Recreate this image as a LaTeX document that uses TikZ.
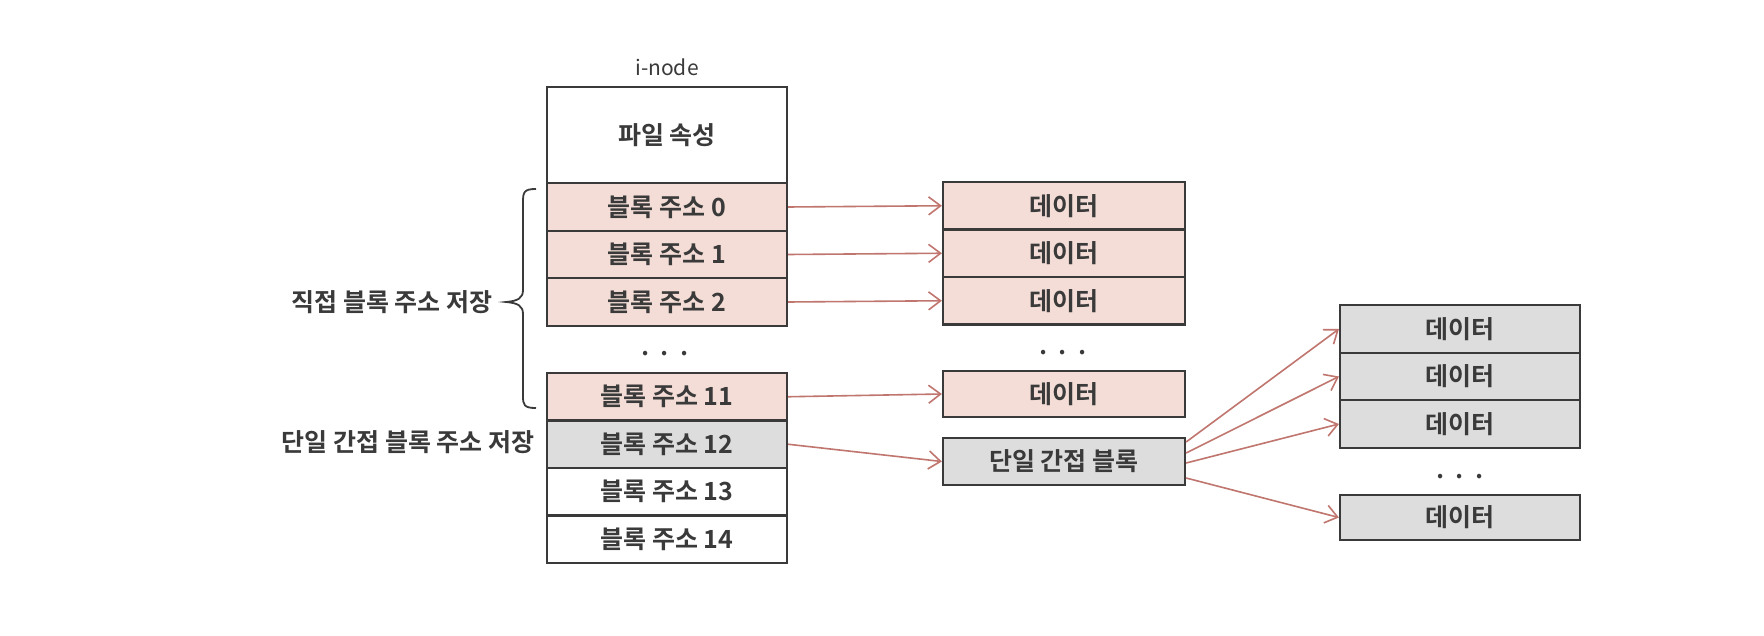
\documentclass[tikz,border=0pt]{standalone}
\usepackage{fontspec}
\setmainfont{Noto Sans CJK KR}[BoldFont={Noto Sans CJK KR Bold}]
\usetikzlibrary{arrows.meta}
\definecolor{pinkfill}{HTML}{F3DDD6}
\definecolor{grayfill}{HTML}{DDDDDD}
\definecolor{arrowred}{HTML}{C0766E}
\definecolor{edgecol}{HTML}{3A3A3A}
\definecolor{txtcol}{HTML}{3A3A3A}
\begin{document}
\begin{tikzpicture}[x=0.5pt,y=-0.5pt,
  cell/.style={draw=edgecol, line width=1.1pt, inner sep=0pt, text=txtcol,
    minimum height=23.75pt, font=\fontsize{12.5}{14}\selectfont\bfseries},
  inodecell/.style={cell, minimum width=120pt},
  datacell/.style={cell, minimum width=121pt},
  datacellb/.style={cell, minimum width=120pt},
  pinkcell/.style={fill=pinkfill},
  graycell/.style={fill=grayfill},
  whitecell/.style={fill=white},
  ptr/.style={draw=arrowred, line width=0.8pt, -{Straight Barb[length=6pt,width=9pt,line width=0.8pt]}},
  bracestyle/.style={draw=edgecol, line width=0.9pt},
  lbl/.style={text=txtcol, font=\fontsize{12.5}{14}\selectfont\bfseries, inner sep=0pt},
  dotslbl/.style={text=txtcol, font=\fontsize{12}{14}\selectfont\bfseries, inner sep=0pt}
]
\fill[white] (0,0) rectangle (1764,636);
\useasboundingbox (0,0) rectangle (1764,636);

% i-node column
\node[lbl, font=\fontsize{10.5}{12}\selectfont] (title) at (667,67) {i-node};
\node[inodecell, whitecell, minimum height=48pt] (attr) at (667,135) {파일 속성};
\node[inodecell, pinkcell] (r0) at (667,207) {블록 주소 0};
\node[inodecell, pinkcell] (r1) at (667,254.5) {블록 주소 1};
\node[inodecell, pinkcell] (r2) at (667,302) {블록 주소 2};
\node[dotslbl] (dotsA) at (665,357) {· · ·};
\node[inodecell, pinkcell] (r11) at (667,396.75) {블록 주소 11};
\node[inodecell, graycell] (r12) at (667,444.25) {블록 주소 12};
\node[inodecell, whitecell] (r13) at (667,491.75) {블록 주소 13};
\node[inodecell, whitecell] (r14) at (667,539.25) {블록 주소 14};

% data column 1
\node[datacell, pinkcell] (d0) at (1064,205.75) {데이터};
\node[datacell, pinkcell] (d1) at (1064,253.25) {데이터};
\node[datacell, pinkcell] (d2) at (1064,300.75) {데이터};
\node[dotslbl] (dotsB) at (1063,356) {· · ·};
\node[datacell, pinkcell, minimum height=23pt] (d11) at (1064,394) {데이터};
\node[datacell, graycell] (ind) at (1064,461.5) {단일 간접 블록};

% data column 2
\node[datacellb, graycell] (e0) at (1460,329) {데이터};
\node[datacellb, graycell] (e1) at (1460,376.5) {데이터};
\node[datacellb, graycell] (e2) at (1460,424) {데이터};
\node[dotslbl] (dotsC) at (1460,480) {· · ·};
\node[datacellb, graycell, minimum height=22.5pt] (e3) at (1460,517.5) {데이터};

% left labels and brace
\node[lbl, anchor=east] (direct) at (493,302) {직접 블록 주소 저장};
\node[lbl, anchor=east] (single) at (535,442) {단일 간접 블록 주소 저장};
\draw[bracestyle] (536,189) .. controls (524,189) and (523,192) .. (523,202)
  -- (523,290) .. controls (523,298) and (518,301) .. (506,302)
  .. controls (518,303) and (523,306) .. (523,314)
  -- (523,396) .. controls (523,405) and (524,408) .. (536,408);

% pointers
\draw[ptr] (r0.east) -- (d0.west);
\draw[ptr] (r1.east) -- (d1.west);
\draw[ptr] (r2.east) -- (d2.west);
\draw[ptr] (r11.east) -- (d11.west);
\draw[ptr] (r12.east) -- (ind.west);
\draw[ptr] ([yshift=9.75pt]ind.east) -- (e0.west);
\draw[ptr] ([yshift=4.25pt]ind.east) -- (e1.west);
\draw[ptr] ([yshift=-0.75pt]ind.east) -- (e2.west);
\draw[ptr] ([yshift=-8.25pt]ind.east) -- (e3.west);
\end{tikzpicture}
\end{document}
